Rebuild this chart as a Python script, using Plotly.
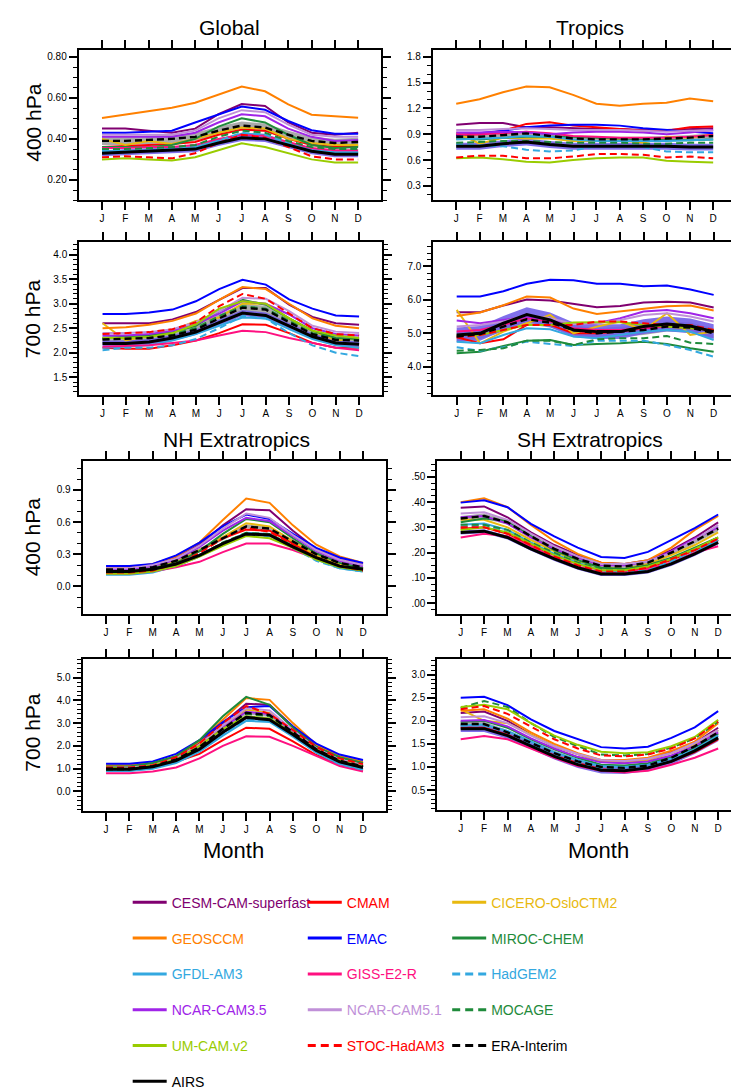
import plotly.graph_objects as go

W, H = 739, 1090

MONTHS = list(range(1, 13))
MONTH_LABELS = ["J", "F", "M", "A", "M", "J", "J", "A", "S", "O", "N", "D"]

MODELS = ["CESM-CAM-superfast", "CMAM", "CICERO-OsloCTM2",
          "GEOSCCM", "EMAC", "MIROC-CHEM",
          "GFDL-AM3", "GISS-E2-R", "HadGEM2",
          "NCAR-CAM3.5", "NCAR-CAM5.1", "MOCAGE",
          "UM-CAM.v2", "STOC-HadAM3", "ERA-Interim",
          "AIRS"]

# ---------------- data ----------------
GLOBAL_400 = {
    "CESM-CAM-superfast": [0.45, 0.45, 0.44, 0.43, 0.45, 0.52, 0.57, 0.56, 0.48, 0.43, 0.42, 0.43],
    "CMAM":               [0.36, 0.365, 0.37, 0.375, 0.385, 0.42, 0.445, 0.44, 0.40, 0.37, 0.36, 0.365],
    "CICERO-OsloCTM2":    [0.40, 0.37, 0.39, 0.375, 0.40, 0.43, 0.455, 0.45, 0.40, 0.38, 0.37, 0.37],
    "GEOSCCM":            [0.502, 0.519, 0.537, 0.552, 0.576, 0.616, 0.655, 0.632, 0.568, 0.518, 0.511, 0.503],
    "EMAC":               [0.43, 0.43, 0.435, 0.44, 0.48, 0.52, 0.558, 0.542, 0.487, 0.442, 0.425, 0.425],
    "MIROC-CHEM":         [0.36, 0.36, 0.36, 0.37, 0.40, 0.46, 0.50, 0.48, 0.42, 0.37, 0.355, 0.36],
    "GFDL-AM3":           [0.34, 0.34, 0.345, 0.35, 0.36, 0.395, 0.425, 0.42, 0.38, 0.345, 0.335, 0.335],
    "GISS-E2-R":          [0.355, 0.355, 0.36, 0.36, 0.37, 0.40, 0.42, 0.415, 0.385, 0.355, 0.345, 0.345],
    "HadGEM2":            [0.345, 0.34, 0.345, 0.345, 0.355, 0.39, 0.43, 0.42, 0.38, 0.34, 0.33, 0.33],
    "NCAR-CAM3.5":        [0.41, 0.41, 0.41, 0.41, 0.43, 0.48, 0.52, 0.51, 0.45, 0.41, 0.39, 0.395],
    "NCAR-CAM5.1":        [0.42, 0.42, 0.42, 0.42, 0.44, 0.50, 0.54, 0.53, 0.47, 0.42, 0.41, 0.41],
    "MOCAGE":             [0.35, 0.35, 0.355, 0.36, 0.37, 0.41, 0.44, 0.43, 0.39, 0.36, 0.35, 0.35],
    "UM-CAM.v2":          [0.30, 0.305, 0.30, 0.295, 0.31, 0.345, 0.378, 0.36, 0.33, 0.30, 0.285, 0.285],
    "STOC-HadAM3":        [0.31, 0.315, 0.31, 0.305, 0.33, 0.38, 0.42, 0.405, 0.36, 0.315, 0.30, 0.30],
    "ERA-Interim":        [0.39, 0.39, 0.395, 0.40, 0.41, 0.44, 0.465, 0.455, 0.42, 0.39, 0.38, 0.385],
    "AIRS":               [0.33, 0.335, 0.34, 0.345, 0.35, 0.38, 0.405, 0.40, 0.37, 0.34, 0.325, 0.325],
}

TROPICS_400 = {
    "CESM-CAM-superfast": [1.01, 1.03, 1.03, 0.98, 0.98, 0.97, 0.96, 0.96, 0.95, 0.95, 0.96, 0.97],
    "CMAM":               [0.89, 0.90, 0.94, 1.02, 1.04, 1.00, 0.98, 0.96, 0.94, 0.94, 0.98, 0.99],
    "CICERO-OsloCTM2":    [0.92, 0.79, 0.86, 0.85, 0.85, 0.82, 0.82, 0.83, 0.80, 0.87, 0.86, 0.90],
    "GEOSCCM":            [1.254, 1.308, 1.388, 1.454, 1.446, 1.358, 1.254, 1.231, 1.254, 1.265, 1.315, 1.285],
    "EMAC":               [0.89, 0.91, 0.94, 0.98, 1.00, 1.01, 1.01, 1.00, 0.97, 0.95, 0.93, 0.91],
    "MIROC-CHEM":         [0.85, 0.84, 0.86, 0.87, 0.87, 0.87, 0.86, 0.85, 0.84, 0.83, 0.83, 0.84],
    "GFDL-AM3":           [0.84, 0.85, 0.86, 0.88, 0.87, 0.84, 0.82, 0.82, 0.82, 0.82, 0.83, 0.84],
    "GISS-E2-R":          [0.90, 0.90, 0.91, 0.93, 0.91, 0.88, 0.87, 0.86, 0.86, 0.86, 0.87, 0.89],
    "HadGEM2":            [0.78, 0.77, 0.76, 0.72, 0.70, 0.71, 0.76, 0.76, 0.75, 0.70, 0.69, 0.69],
    "NCAR-CAM3.5":        [0.92, 0.92, 0.93, 0.92, 0.90, 0.92, 0.93, 0.93, 0.92, 0.90, 0.92, 0.95],
    "NCAR-CAM5.1":        [0.95, 0.95, 0.96, 0.97, 0.96, 0.95, 0.95, 0.95, 0.94, 0.93, 0.94, 0.94],
    "MOCAGE":             [0.80, 0.81, 0.82, 0.82, 0.81, 0.80, 0.80, 0.80, 0.79, 0.79, 0.80, 0.80],
    "UM-CAM.v2":          [0.62, 0.63, 0.61, 0.58, 0.57, 0.60, 0.62, 0.63, 0.63, 0.59, 0.58, 0.57],
    "STOC-HadAM3":        [0.63, 0.65, 0.65, 0.62, 0.62, 0.64, 0.67, 0.67, 0.66, 0.63, 0.64, 0.62],
    "ERA-Interim":        [0.87, 0.87, 0.89, 0.91, 0.88, 0.85, 0.84, 0.84, 0.84, 0.85, 0.86, 0.88],
    "AIRS":               [0.76, 0.76, 0.79, 0.81, 0.78, 0.76, 0.76, 0.76, 0.76, 0.76, 0.75, 0.75],
}

GLOBAL_700 = {
    "CESM-CAM-superfast": [2.60, 2.60, 2.60, 2.68, 2.83, 3.08, 3.32, 3.32, 2.98, 2.73, 2.60, 2.57],
    "CMAM":               [2.10, 2.08, 2.08, 2.15, 2.25, 2.40, 2.58, 2.57, 2.40, 2.20, 2.10, 2.10],
    "CICERO-OsloCTM2":    [2.60, 2.25, 2.35, 2.45, 2.65, 2.72, 3.00, 3.00, 2.70, 2.45, 2.25, 2.30],
    "GEOSCCM":            [2.50, 2.52, 2.57, 2.65, 2.80, 3.08, 3.34, 3.30, 3.00, 2.70, 2.55, 2.50],
    "EMAC":               [2.79, 2.79, 2.82, 2.88, 3.05, 3.30, 3.49, 3.39, 3.09, 2.90, 2.76, 2.74],
    "MIROC-CHEM":         [2.30, 2.32, 2.35, 2.42, 2.55, 2.85, 3.08, 2.98, 2.70, 2.45, 2.30, 2.28],
    "GFDL-AM3":           [2.10, 2.12, 2.15, 2.25, 2.38, 2.55, 2.72, 2.70, 2.48, 2.28, 2.15, 2.10],
    "GISS-E2-R":          [2.12, 2.13, 2.15, 2.20, 2.25, 2.35, 2.45, 2.42, 2.30, 2.20, 2.10, 2.05],
    "HadGEM2":            [2.05, 2.10, 2.10, 2.15, 2.28, 2.50, 2.75, 2.70, 2.40, 2.15, 2.00, 1.93],
    "NCAR-CAM3.5":        [2.35, 2.35, 2.38, 2.45, 2.58, 2.80, 3.05, 3.00, 2.78, 2.50, 2.38, 2.35],
    "NCAR-CAM5.1":        [2.40, 2.40, 2.42, 2.48, 2.62, 2.85, 3.12, 3.10, 2.85, 2.55, 2.43, 2.40],
    "MOCAGE":             [2.28, 2.30, 2.32, 2.38, 2.50, 2.75, 2.95, 2.90, 2.65, 2.40, 2.28, 2.25],
    "UM-CAM.v2":          [2.30, 2.30, 2.32, 2.40, 2.58, 2.90, 3.05, 3.00, 2.70, 2.45, 2.35, 2.30],
    "STOC-HadAM3":        [2.38, 2.40, 2.42, 2.48, 2.62, 2.95, 3.20, 3.10, 2.80, 2.50, 2.38, 2.35],
    "ERA-Interim":        [2.27, 2.28, 2.30, 2.35, 2.47, 2.70, 2.92, 2.88, 2.62, 2.38, 2.26, 2.25],
    "AIRS":               [2.19, 2.19, 2.22, 2.30, 2.42, 2.62, 2.81, 2.76, 2.55, 2.33, 2.20, 2.17],
}

TROPICS_700 = {
    "CESM-CAM-superfast": [5.63, 5.63, 5.83, 6.01, 5.98, 5.87, 5.78, 5.82, 5.92, 5.94, 5.92, 5.77],
    "CMAM":               [4.88, 4.70, 4.82, 5.25, 5.25, 5.00, 5.00, 5.05, 5.15, 5.22, 5.20, 5.05],
    "CICERO-OsloCTM2":    [5.70, 4.70, 5.05, 5.30, 5.55, 5.00, 5.20, 5.35, 5.10, 5.60, 4.95, 5.05],
    "GEOSCCM":            [5.52, 5.62, 5.84, 6.10, 6.07, 5.74, 5.58, 5.65, 5.73, 5.81, 5.83, 5.68],
    "EMAC":               [6.10, 6.10, 6.26, 6.48, 6.60, 6.59, 6.48, 6.48, 6.41, 6.43, 6.31, 6.15],
    "MIROC-CHEM":         [4.40, 4.45, 4.62, 4.78, 4.80, 4.65, 4.68, 4.70, 4.75, 4.68, 4.55, 4.45],
    "GFDL-AM3":           [4.75, 4.70, 4.95, 5.15, 5.12, 4.90, 4.85, 4.95, 5.05, 5.10, 5.05, 4.80],
    "GISS-E2-R":          [5.05, 5.10, 5.25, 5.45, 5.35, 5.15, 5.10, 5.10, 5.15, 5.20, 5.15, 5.10],
    "HadGEM2":            [4.58, 4.48, 4.58, 4.75, 4.68, 4.62, 4.78, 4.78, 4.78, 4.65, 4.50, 4.30],
    "NCAR-CAM3.5":        [5.38, 5.30, 5.40, 5.50, 5.40, 5.28, 5.30, 5.45, 5.65, 5.70, 5.60, 5.45],
    "NCAR-CAM5.1":        [5.20, 5.25, 5.35, 5.55, 5.45, 5.28, 5.30, 5.40, 5.55, 5.60, 5.50, 5.35],
    "MOCAGE":             [4.48, 4.50, 4.55, 4.78, 4.78, 4.65, 4.82, 4.85, 4.85, 4.92, 4.72, 4.68],
    "UM-CAM.v2":          [4.95, 4.95, 5.10, 5.25, 5.25, 5.32, 5.33, 5.33, 5.25, 5.20, 5.15, 5.10],
    "STOC-HadAM3":        [4.88, 4.95, 5.10, 5.25, 5.25, 5.25, 5.35, 5.35, 5.30, 5.25, 5.25, 5.10],
    "ERA-Interim":        [4.90, 4.98, 5.20, 5.42, 5.32, 5.10, 5.00, 5.05, 5.10, 5.20, 5.17, 5.00],
    "AIRS":               [4.95, 5.00, 5.30, 5.56, 5.40, 5.10, 5.05, 5.05, 5.20, 5.28, 5.22, 5.05],
}

NH_400 = {
    "CESM-CAM-superfast": [0.17, 0.17, 0.20, 0.27, 0.39, 0.57, 0.72, 0.71, 0.52, 0.35, 0.26, 0.21],
    "CMAM":               [0.13, 0.13, 0.16, 0.22, 0.33, 0.45, 0.53, 0.52, 0.40, 0.28, 0.20, 0.16],
    "CICERO-OsloCTM2":    [0.15, 0.15, 0.17, 0.23, 0.34, 0.46, 0.59, 0.56, 0.42, 0.29, 0.21, 0.17],
    "GEOSCCM":            [0.18, 0.18, 0.21, 0.28, 0.41, 0.62, 0.82, 0.78, 0.57, 0.39, 0.28, 0.22],
    "EMAC":               [0.19, 0.19, 0.21, 0.29, 0.41, 0.56, 0.67, 0.63, 0.49, 0.36, 0.27, 0.22],
    "MIROC-CHEM":         [0.14, 0.14, 0.17, 0.22, 0.33, 0.49, 0.63, 0.60, 0.45, 0.31, 0.22, 0.17],
    "GFDL-AM3":           [0.11, 0.11, 0.13, 0.19, 0.28, 0.40, 0.50, 0.49, 0.37, 0.25, 0.17, 0.14],
    "GISS-E2-R":          [0.12, 0.12, 0.14, 0.18, 0.23, 0.32, 0.40, 0.40, 0.34, 0.26, 0.19, 0.15],
    "HadGEM2":            [0.12, 0.12, 0.14, 0.19, 0.28, 0.40, 0.48, 0.47, 0.36, 0.24, 0.17, 0.14],
    "NCAR-CAM3.5":        [0.16, 0.16, 0.19, 0.25, 0.37, 0.52, 0.64, 0.61, 0.47, 0.33, 0.24, 0.19],
    "NCAR-CAM5.1":        [0.17, 0.17, 0.20, 0.26, 0.38, 0.54, 0.68, 0.64, 0.48, 0.34, 0.25, 0.20],
    "MOCAGE":             [0.13, 0.13, 0.15, 0.20, 0.29, 0.41, 0.50, 0.49, 0.38, 0.26, 0.18, 0.15],
    "UM-CAM.v2":          [0.12, 0.12, 0.14, 0.19, 0.28, 0.38, 0.47, 0.45, 0.36, 0.25, 0.18, 0.15],
    "STOC-HadAM3":        [0.13, 0.13, 0.15, 0.21, 0.31, 0.45, 0.55, 0.51, 0.39, 0.27, 0.19, 0.15],
    "ERA-Interim":        [0.16, 0.16, 0.18, 0.24, 0.34, 0.45, 0.56, 0.54, 0.42, 0.30, 0.22, 0.18],
    "AIRS":               [0.14, 0.14, 0.16, 0.21, 0.29, 0.40, 0.49, 0.48, 0.37, 0.27, 0.19, 0.16],
}

SH_400 = {
    "CESM-CAM-superfast": [0.378, 0.383, 0.34, 0.28, 0.23, 0.19, 0.16, 0.155, 0.17, 0.21, 0.26, 0.32],
    "CMAM":               [0.295, 0.30, 0.275, 0.23, 0.19, 0.155, 0.13, 0.125, 0.14, 0.17, 0.21, 0.25],
    "CICERO-OsloCTM2":    [0.33, 0.33, 0.30, 0.25, 0.205, 0.165, 0.14, 0.135, 0.155, 0.19, 0.23, 0.28],
    "GEOSCCM":            [0.40, 0.415, 0.38, 0.31, 0.245, 0.195, 0.16, 0.155, 0.17, 0.22, 0.29, 0.345],
    "EMAC":               [0.398, 0.407, 0.38, 0.314, 0.264, 0.22, 0.183, 0.179, 0.203, 0.249, 0.297, 0.351],
    "MIROC-CHEM":         [0.32, 0.335, 0.325, 0.265, 0.21, 0.17, 0.14, 0.135, 0.15, 0.18, 0.22, 0.26],
    "GFDL-AM3":           [0.31, 0.315, 0.29, 0.24, 0.195, 0.16, 0.13, 0.12, 0.13, 0.16, 0.20, 0.25],
    "GISS-E2-R":          [0.26, 0.275, 0.265, 0.225, 0.18, 0.145, 0.12, 0.12, 0.135, 0.16, 0.20, 0.225],
    "HadGEM2":            [0.30, 0.31, 0.28, 0.235, 0.19, 0.155, 0.125, 0.12, 0.13, 0.165, 0.21, 0.245],
    "NCAR-CAM3.5":        [0.34, 0.345, 0.315, 0.26, 0.215, 0.18, 0.15, 0.15, 0.165, 0.205, 0.255, 0.30],
    "NCAR-CAM5.1":        [0.355, 0.36, 0.33, 0.275, 0.225, 0.185, 0.155, 0.155, 0.165, 0.20, 0.25, 0.31],
    "MOCAGE":             [0.31, 0.31, 0.29, 0.24, 0.20, 0.16, 0.135, 0.13, 0.145, 0.175, 0.215, 0.26],
    "UM-CAM.v2":          [0.29, 0.30, 0.28, 0.235, 0.19, 0.155, 0.13, 0.13, 0.145, 0.175, 0.215, 0.26],
    "STOC-HadAM3":        [0.30, 0.30, 0.275, 0.23, 0.185, 0.15, 0.125, 0.125, 0.14, 0.175, 0.21, 0.255],
    "ERA-Interim":        [0.335, 0.345, 0.32, 0.265, 0.215, 0.175, 0.148, 0.145, 0.16, 0.20, 0.245, 0.295],
    "AIRS":               [0.28, 0.285, 0.26, 0.215, 0.175, 0.14, 0.115, 0.115, 0.125, 0.155, 0.195, 0.24],
}

NH_700 = {
    "CESM-CAM-superfast": [1.10, 1.10, 1.20, 1.50, 2.15, 3.00, 3.85, 3.80, 2.85, 2.00, 1.50, 1.25],
    "CMAM":               [1.00, 1.00, 1.10, 1.30, 1.65, 2.25, 2.80, 2.75, 2.20, 1.60, 1.20, 0.95],
    "CICERO-OsloCTM2":    [1.05, 1.05, 1.15, 1.45, 2.05, 2.85, 3.60, 3.45, 2.65, 1.85, 1.40, 1.15],
    "GEOSCCM":            [1.15, 1.15, 1.25, 1.55, 2.20, 3.15, 4.10, 4.02, 3.00, 2.05, 1.55, 1.30],
    "EMAC":               [1.22, 1.22, 1.32, 1.65, 2.25, 3.05, 3.70, 3.75, 2.85, 2.10, 1.62, 1.38],
    "MIROC-CHEM":         [1.10, 1.10, 1.25, 1.55, 2.25, 3.30, 4.15, 3.80, 2.80, 1.95, 1.50, 1.25],
    "GFDL-AM3":           [0.90, 0.90, 1.00, 1.25, 1.75, 2.45, 3.10, 3.05, 2.40, 1.70, 1.20, 0.95],
    "GISS-E2-R":          [0.80, 0.80, 0.88, 1.05, 1.45, 2.00, 2.42, 2.40, 2.00, 1.55, 1.12, 0.88],
    "HadGEM2":            [0.90, 0.92, 1.02, 1.30, 1.80, 2.50, 3.15, 3.10, 2.45, 1.70, 1.20, 0.95],
    "NCAR-CAM3.5":        [1.00, 1.00, 1.12, 1.40, 2.00, 2.80, 3.50, 3.40, 2.65, 1.85, 1.35, 1.10],
    "NCAR-CAM5.1":        [1.05, 1.05, 1.15, 1.45, 2.05, 2.90, 3.65, 3.55, 2.70, 1.90, 1.40, 1.15],
    "MOCAGE":             [0.95, 0.95, 1.08, 1.40, 1.95, 2.75, 3.40, 3.30, 2.55, 1.80, 1.30, 1.05],
    "UM-CAM.v2":          [1.05, 1.00, 1.15, 1.40, 2.00, 2.75, 3.30, 3.20, 2.55, 1.85, 1.35, 1.10],
    "STOC-HadAM3":        [1.05, 1.05, 1.15, 1.50, 2.10, 3.00, 3.75, 3.40, 2.70, 1.95, 1.45, 1.20],
    "ERA-Interim":        [1.00, 1.00, 1.10, 1.40, 1.95, 2.75, 3.45, 3.35, 2.60, 1.85, 1.35, 1.10],
    "AIRS":               [0.98, 0.98, 1.08, 1.35, 1.85, 2.60, 3.25, 3.15, 2.50, 1.80, 1.30, 1.05],
}

SH_700 = {
    "CESM-CAM-superfast": [2.17, 2.20, 2.00, 1.70, 1.45, 1.28, 1.12, 1.12, 1.18, 1.33, 1.52, 1.85],
    "CMAM":               [1.85, 1.85, 1.70, 1.45, 1.25, 1.08, 0.95, 0.92, 0.98, 1.12, 1.32, 1.60],
    "CICERO-OsloCTM2":    [2.25, 2.00, 1.95, 1.70, 1.45, 1.28, 1.12, 1.10, 1.15, 1.30, 1.50, 1.80],
    "GEOSCCM":            [2.22, 2.25, 2.05, 1.75, 1.50, 1.30, 1.15, 1.15, 1.20, 1.35, 1.55, 1.95],
    "EMAC":               [2.50, 2.52, 2.34, 2.03, 1.78, 1.60, 1.43, 1.40, 1.44, 1.63, 1.86, 2.21],
    "MIROC-CHEM":         [1.98, 2.00, 1.85, 1.60, 1.38, 1.20, 1.05, 1.03, 1.08, 1.22, 1.42, 1.72],
    "GFDL-AM3":           [1.90, 1.92, 1.78, 1.55, 1.32, 1.15, 1.02, 1.00, 1.05, 1.18, 1.38, 1.68],
    "GISS-E2-R":          [1.60, 1.67, 1.60, 1.40, 1.20, 1.02, 0.92, 0.88, 0.92, 1.05, 1.20, 1.40],
    "HadGEM2":            [1.90, 1.90, 1.75, 1.50, 1.28, 1.10, 0.98, 0.96, 1.00, 1.15, 1.35, 1.65],
    "NCAR-CAM3.5":        [2.00, 2.02, 1.88, 1.62, 1.40, 1.22, 1.10, 1.08, 1.12, 1.25, 1.45, 1.75],
    "NCAR-CAM5.1":        [2.08, 2.10, 1.95, 1.68, 1.45, 1.28, 1.15, 1.13, 1.18, 1.30, 1.52, 1.80],
    "MOCAGE":             [2.28, 2.43, 2.30, 1.95, 1.65, 1.45, 1.27, 1.25, 1.28, 1.42, 1.62, 1.98],
    "UM-CAM.v2":          [2.30, 2.35, 2.25, 1.95, 1.68, 1.48, 1.33, 1.30, 1.32, 1.45, 1.65, 2.02],
    "STOC-HadAM3":        [2.25, 2.32, 2.15, 1.88, 1.60, 1.40, 1.25, 1.23, 1.27, 1.40, 1.62, 1.98],
    "ERA-Interim":        [1.93, 1.93, 1.75, 1.52, 1.30, 1.12, 1.00, 0.98, 1.03, 1.20, 1.45, 1.75],
    "AIRS":               [1.83, 1.83, 1.68, 1.45, 1.23, 1.05, 0.93, 0.92, 0.98, 1.12, 1.35, 1.63],
}

# half-width of the shaded ranges around ERA-Interim (grey) and AIRS (blue)
ERA_BAND = {"g400": 0.02, "t400": 0.03, "g700": 0.08, "t700": 0.15,
            "n400": 0.02, "s400": 0.01, "n700": 0.08, "s700": 0.05}
AIRS_BAND = {"g400": 0.015, "t400": 0.04, "g700": 0.06, "t700": 0.22,
             "n400": 0.015, "s400": 0.008, "n700": 0.08, "s700": 0.07}

# ---------------- styles ----------------
COLORS = {
    "CESM-CAM-superfast": "#800070", "CMAM": "#FF0000", "CICERO-OsloCTM2": "#E8B90F",
    "GEOSCCM": "#FF8000", "EMAC": "#0000FF", "MIROC-CHEM": "#1F8B3B",
    "GFDL-AM3": "#33A8E0", "GISS-E2-R": "#FF1080", "HadGEM2": "#33A8E0",
    "NCAR-CAM3.5": "#A024E8", "NCAR-CAM5.1": "#C090D8", "MOCAGE": "#1F8B3B",
    "UM-CAM.v2": "#99CC00", "STOC-HadAM3": "#FF0000", "ERA-Interim": "#000000",
    "AIRS": "#000000",
}
DASHED = {"HadGEM2", "MOCAGE", "STOC-HadAM3", "ERA-Interim"}
LEGEND_OF = {}
for i, m in enumerate(MODELS):
    LEGEND_OF[m] = ["legend", "legend2", "legend3"][i % 3]


def px_x(p):
    return p / W


def px_y(p):
    return 1 - p / H


# panel geometry (pixel boxes) and axis settings
PANELS = [
    dict(key="g400", data=GLOBAL_400, box=(71.5, 377.5, 42, 194), xr=[0, 13],
         yr=[0.10, 0.835], dtick=0.2, tick0=0.2, minor=0.05, fmt=".2f"),
    dict(key="t400", data=TROPICS_400, box=(429.5, 736.5, 42, 194), xr=[0, 13],
         yr=[0.13, 1.884], dtick=0.3, tick0=0.0, minor=0.1, fmt=".1f"),
    dict(key="g700", data=GLOBAL_700, box=(72, 378.5, 236, 390), xr=[0, 13],
         yr=[1.14, 4.26], dtick=0.5, tick0=0.0, minor=0.1, fmt=".1f"),
    dict(key="t700", data=TROPICS_700, box=(430, 737, 236, 390), xr=[0, 13],
         yr=[3.16, 7.73], dtick=1.0, tick0=0.0, minor=0.2, fmt=".1f"),
    dict(key="n400", data=NH_400, box=(75.5, 382.5, 457, 611), xr=[0, 13],
         yr=[-0.256, 1.168], dtick=0.3, tick0=0.0, minor=0.1, fmt=".1f"),
    dict(key="s400", data=SH_400, box=(434, 739, 457, 611), xr=[0, 12.89],
         yr=[-0.043, 0.562], dtick=0.1, tick0=0.0, minor=0.025, fmt="sh", clip=True),
    dict(key="n700", data=NH_700, box=(75.5, 382.5, 656, 810), xr=[0, 13],
         yr=[-0.87, 5.83], dtick=1.0, tick0=0.0, minor=0.2, fmt=".1f"),
    dict(key="s700", data=SH_700, box=(434, 739, 656, 809), xr=[0, 12.89],
         yr=[0.06, 3.35], dtick=0.5, tick0=0.0, minor=0.1, fmt=".1f", clip=True),
]

FONT = "Liberation Sans, Arial, sans-serif"
fig = go.Figure()
layout = {}

for i, p in enumerate(PANELS):
    n = i + 1
    xa = "x" if n == 1 else f"x{n}"
    ya = "y" if n == 1 else f"y{n}"
    xname = "xaxis" if n == 1 else f"xaxis{n}"
    yname = "yaxis" if n == 1 else f"yaxis{n}"
    d = p["data"]

    # shaded ranges
    for ref, half, col in (("ERA-Interim", ERA_BAND[p["key"]], "rgba(165,165,165,0.95)"),
                           ("AIRS", AIRS_BAND[p["key"]], "rgba(110,92,232,0.88)")):
        base = d[ref]
        up = [v + half for v in base]
        lo = [v - half for v in base]
        fig.add_trace(go.Scatter(
            x=MONTHS + MONTHS[::-1], y=up + lo[::-1], fill="toself",
            fillcolor=col, line=dict(width=0), mode="lines",
            showlegend=False, hoverinfo="skip", xaxis=xa, yaxis=ya))

    for m in MODELS:
        width = 3 if m == "AIRS" else (2.4 if m == "ERA-Interim" else 2)
        fig.add_trace(go.Scatter(
            x=MONTHS, y=d[m], mode="lines", name=m, legendgroup=m,
            line=dict(color=COLORS[m], width=width,
                      dash="7px,4px" if m in DASHED else "solid"),
            showlegend=False, xaxis=xa, yaxis=ya))

    x0, x1, y0, y1 = p["box"]
    layout[xname] = dict(
        domain=[px_x(x0), min(1.0, px_x(x1))], range=p["xr"], anchor=ya,
        tickmode="array", tickvals=MONTHS, ticktext=MONTH_LABELS,
        ticks="outside", ticklen=8, tickwidth=1.6, tickcolor="black",
        showline=True, linecolor="black", linewidth=2, mirror="ticks",
        showgrid=False, zeroline=False,
        tickfont=dict(family=FONT, size=10, color="black"),
    )
    yax = dict(
        domain=[px_y(y1), px_y(y0)], range=p["yr"], anchor=xa,
        ticks="outside", ticklen=8, tickwidth=1.6, tickcolor="black",
        showline=True, linecolor="black", linewidth=2,
        mirror=False if p.get("clip") else "ticks",
        showgrid=False, zeroline=False,
        minor=dict(ticks="outside", ticklen=4, tickwidth=1.2, tickcolor="black",
                   dtick=p["minor"], tick0=0, showgrid=False),
        tickfont=dict(family=FONT, size=10, color="black"),
    )
    if p["fmt"] == "sh":
        vals = [0.0, 0.1, 0.2, 0.3, 0.4, 0.5]
        yax.update(tickmode="array", tickvals=vals,
                   ticktext=[("%.2f" % v)[1:] for v in vals])
    else:
        yax.update(tickmode="linear", dtick=p["dtick"], tick0=p["tick0"],
                   tickformat=p["fmt"])
    layout[yname] = yax

# legend-only entries (three columns)
for m in MODELS:
    fig.add_trace(go.Scatter(
        x=[None], y=[None], mode="lines", legendgroup=m, legend=LEGEND_OF[m],
        name=f'<span style="color:{COLORS[m]}">{m}</span>',
        line=dict(color=COLORS[m], width=3,
                  dash="8px,5px" if m in DASHED else "solid"),
        showlegend=True, hoverinfo="skip"))

leg_common = dict(orientation="v", xanchor="left", yanchor="top",
                  traceorder="grouped", tracegroupgap=14.6, itemwidth=34,
                  bgcolor="rgba(0,0,0,0)", borderwidth=0,
                  font=dict(family=FONT, size=14))
layout["legend"] = dict(x=px_x(121), y=px_y(886), **leg_common)
layout["legend2"] = dict(x=px_x(298), y=px_y(886), **leg_common)
layout["legend3"] = dict(x=px_x(444), y=px_y(886), **leg_common)

ann = []


def add_text(txt, x, y, size, angle=0):
    ann.append(dict(text=txt, x=px_x(x), y=px_y(y), xref="paper", yref="paper",
                    showarrow=False, textangle=angle, xanchor="center", yanchor="middle",
                    font=dict(family=FONT, size=size, color="black")))


add_text("Global", 224, 20, 21)
add_text("Tropics", 588, 20, 21)
add_text("NH Extratropics", 231, 435, 21)
add_text("SH Extratropics", 588, 435, 21)
add_text("400 hPa", 25, 115, 21, -90)
add_text("700 hPa", 25, 313, 21, -90)
add_text("400 hPa", 25, 533, 21, -90)
add_text("700 hPa", 25, 730, 21, -90)
add_text("Month", 228, 850, 22)
add_text("Month", 597, 850, 22)

fig.update_layout(
    width=W, height=H, margin=dict(l=0, r=0, t=0, b=0),
    paper_bgcolor="white", plot_bgcolor="white",
    annotations=ann, **layout)

fig.write_html("out.html")
